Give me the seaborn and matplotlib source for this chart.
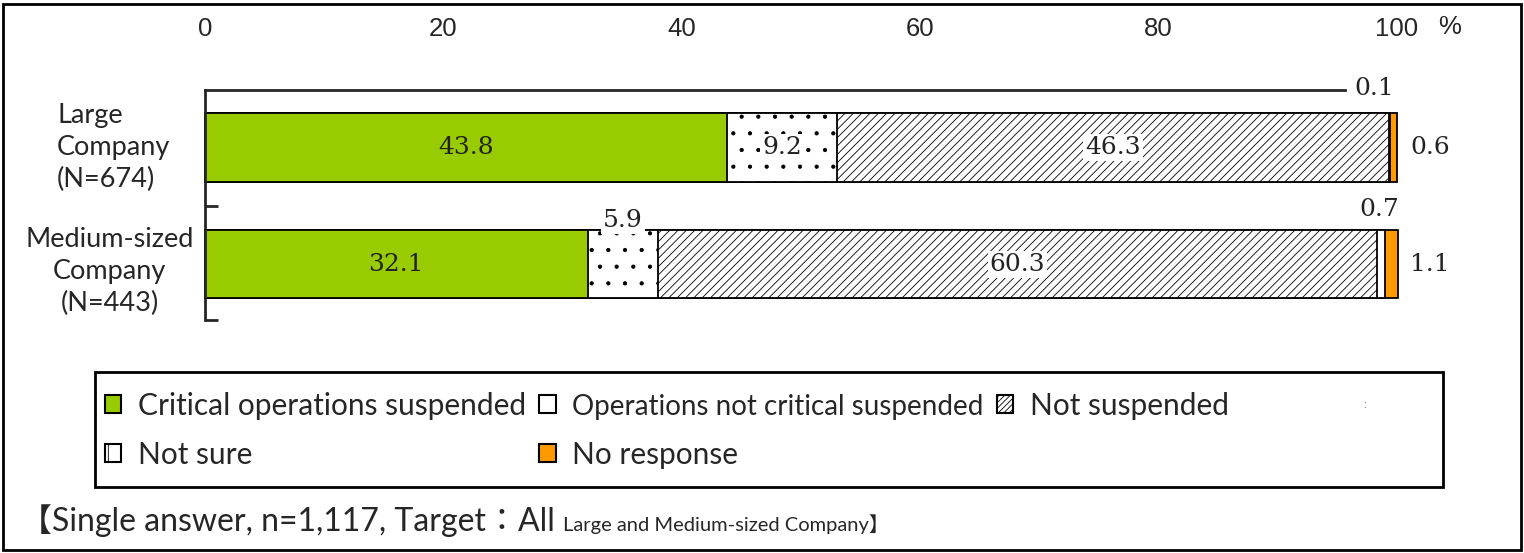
import matplotlib
matplotlib.use("Agg")
import matplotlib.pyplot as plt
import matplotlib.transforms as mtransforms
from matplotlib.patches import Patch, Rectangle
import seaborn as sns
import pandas as pd

companies = ["Large Company (N=674)", "Medium-sized Company (N=443)"]
companyLabels = ["Large\nCompany\n(N=674)", "Medium-sized\nCompany\n(N=443)"]
responses = ["Critical operations suspended", "Operations not critical suspended",
             "Not suspended", "Not sure", "No response"]
largeValues = [43.8, 9.2, 46.3, 0.1, 0.6]
mediumValues = [32.1, 5.9, 60.3, 0.7, 1.1]
xTicks = [0, 20, 40, 60, 80, 100]
footnoteMain = "【Single answer, n=1,117, Target：All "
footnoteSmall = "Large and Medium-sized Company】"

barColors = ["#99CC00", "white", "white", "white", "#FF9900"]
barHatches = ["", ".", "////", "", ""]

sns.set_style("ticks")
plt.rcParams["font.family"] = ["Lato", "Noto Sans CJK JP", "DejaVu Sans"]
plt.rcParams["hatch.linewidth"] = 0.6

wide = pd.DataFrame([largeValues, mediumValues], index=companies, columns=responses)
cumulative = wide.cumsum(axis=1)

fig = plt.figure(figsize=(15.24, 5.53), dpi=100)
ax = fig.add_axes([205 / 1524, 1 - 320 / 553, 1192 / 1524, 230 / 553])

# stacked bars: draw cumulative totals from the longest down
for i in reversed(range(len(responses))):
    sns.barplot(x=cumulative[responses[i]].values, y=companies, orient="h",
                color=barColors[i], saturation=1, edgecolor="black", linewidth=1.3,
                hatch=barHatches[i], width=0.59, ax=ax)
for p in ax.patches:
    p.set_clip_on(False)

ax.set_xlim(0, 100)
ax.set_ylim(1.48, -0.494)
ax.set_xlabel("")
ax.set_ylabel("")

sns.despine(ax=ax, top=False, right=True, bottom=True, left=False)
ax.spines["top"].set_bounds(0, 95.6)
ax.spines["top"].set_linewidth(2)
ax.spines["left"].set_linewidth(2)

ax.xaxis.tick_top()
ax.set_xticks(xTicks)
ax.set_xticklabels([str(t) for t in xTicks], family="Liberation Sans")
ax.tick_params(axis="x", which="major", length=0, pad=35, labelsize=18.5)
ax.set_xticks(xTicks[1:-1], minor=True)
ax.tick_params(axis="x", which="minor", direction="in", length=7, width=2.5,
               top=True, bottom=False)
ax.set_yticks([0.5, 1.48])
ax.set_yticklabels(["", ""])
ax.tick_params(axis="y", direction="in", length=9, width=2)

trans = mtransforms.blended_transform_factory(ax.transData, ax.transAxes)
ax.text(104.4, 1.274, "%", transform=trans, ha="center", va="center",
        fontsize=18.5, family="Liberation Sans")

# category labels
labelTrans = mtransforms.blended_transform_factory(ax.transAxes, ax.transData)
ax.text(-0.124, 0, companyLabels[0], transform=labelTrans, ha="left", va="center",
        fontsize=19.5, linespacing=1.35, multialignment="left")
ax.text(-0.08, 1.06, companyLabels[1], transform=labelTrans, ha="center", va="center",
        fontsize=19.5, linespacing=1.35, multialignment="center")

# value labels
numFont = dict(family="DejaVu Serif", fontsize=18, color="#222222")
whiteBox = dict(facecolor="white", edgecolor="none", pad=1.5)
for row, company in enumerate(companies):
    for i, response in enumerate(responses):
        value = wide.loc[company, response]
        center = cumulative.loc[company, response] - value / 2
        text = f"{value:.1f}"
        if i == 0:
            ax.text(center, row, text, ha="center", va="center", **numFont)
        elif i in (1, 2) and value >= 9:
            ax.text(center, row, text, ha="center", va="center", bbox=whiteBox, **numFont)
        elif i == 1:
            ax.text(center, row - 0.37, text, ha="center", va="center", bbox=whiteBox, **numFont)
        elif i == 3:
            if row == 0:
                ax.text(96.4, -0.51, text, ha="left", va="center", **numFont)
            else:
                ax.text(cumulative.loc[company, response] - 0.5, 0.535, text,
                        ha="center", va="center", **numFont)
        else:
            ax.text(101.1, row, text, ha="left", va="center", **numFont)

# legend
order = [0, 3, 1, 4, 2]
legendHatches = ["", "", "//////", "|", ""]
handles = [Patch(facecolor=barColors[i], edgecolor="black", hatch=legendHatches[i], linewidth=1.5)
           for i in order]
leg = fig.legend(handles, [responses[i] for i in order], loc="upper left",
                 bbox_to_anchor=(105 / 1524, 1 - 392 / 553), ncol=3, frameon=False,
                 fontsize=21.5, handlelength=0.55, handleheight=0.55, handletextpad=0.55,
                 columnspacing=0.45, labelspacing=0.7, borderpad=0, borderaxespad=0)
for t in leg.get_texts():
    if t.get_text() == responses[1]:
        t.set_fontsize(20)
fig.add_artist(Rectangle((95 / 1524, 1 - 487 / 553), 1348 / 1524, 115 / 553,
                         transform=fig.transFigure, fill=False, edgecolor="black", linewidth=2))
fig.text(1365 / 1524, 1 - 405 / 553, ":", fontsize=8, color="gray", ha="center", va="center")

# footnote
baseline = 1 - 531 / 553
t1 = fig.text(20 / 1524, baseline, footnoteMain, fontsize=23, va="baseline")
ax.annotate(footnoteSmall, xy=(1, baseline), xycoords=(t1, "figure fraction"),
            ha="left", va="baseline", fontsize=14.5, annotation_clip=False)

# outer frame
fig.add_artist(Rectangle((3 / 1524, 3 / 553), 1518 / 1524, 546 / 553,
                         transform=fig.transFigure, fill=False, edgecolor="black", linewidth=2))

fig.savefig("out.png", dpi=100)
